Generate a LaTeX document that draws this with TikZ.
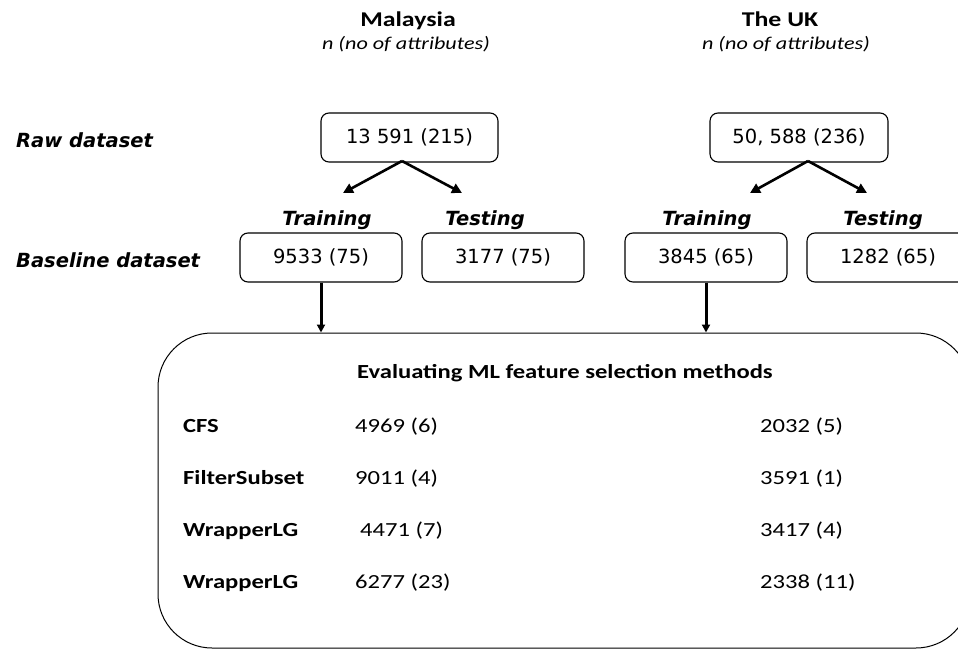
\documentclass[tikz,border=0pt]{standalone}
\usepackage{fontspec}
\usetikzlibrary{arrows.meta}
% Widened Calibri-metric face for headings and the results table
\newfontfamily\calfont[FakeStretch=1.23]{Carlito}
\newfontfamily\dvfont{DejaVu Sans}

\begin{document}
\begin{tikzpicture}[x=1pt,y=-1pt,
  countbox/.style={draw, line width=1.1pt, rounded corners=8pt,
    minimum height=49pt, inner sep=0pt,
    font=\dvfont\fontsize{19.5}{22}\selectfont},
  sidelabel/.style={anchor=base west, inner sep=0pt,
    font=\dvfont\bfseries\itshape\fontsize{19.5}{22}\selectfont},
  splitlabel/.style={anchor=base, inner sep=0pt,
    font=\dvfont\bfseries\itshape\fontsize{19.5}{22}\selectfont},
  country/.style={anchor=base, inner sep=0pt,
    font=\calfont\bfseries\fontsize{21}{24}\selectfont},
  subhead/.style={anchor=base, inner sep=0pt,
    font=\calfont\itshape\fontsize{18}{21}\selectfont},
  splitarrow/.style={line width=2.6pt, -{Triangle[length=10pt,width=10pt]}},
  downarrow/.style={line width=3pt, -{Triangle[length=8pt,width=8pt]}},
  evaltitle/.style={anchor=base, inner sep=0pt,
    font=\calfont\bfseries\fontsize{20}{24}\selectfont},
  method/.style={anchor=base west, inner sep=0pt,
    font=\calfont\bfseries\fontsize{20}{24}\selectfont},
  result/.style={anchor=base west, inner sep=0pt,
    font=\calfont\fontsize{20}{24}\selectfont}
]
\useasboundingbox (0,0) rectangle (958,650);

% Column headings
\node[country] (mal) at (408,27) {Malaysia};
\node[subhead] (malsub) at (406,50) {n (no of attributes)};
\node[country] (uk) at (780,27) {The UK};
\node[subhead] (uksub) at (786,50) {n (no of attributes)};

% Row labels
\node[sidelabel] (rawlbl) at (16,147) {Raw dataset};
\node[sidelabel] (baselbl) at (16,267) {Baseline dataset};

% Raw datasets
\node[countbox, minimum width=177pt] (rawM) at (409.5,137.5) {13 591 (215)};
\node[countbox, minimum width=178pt] (rawU) at (799,137.5) {50, 588 (236)};

% Training / testing split
\node[splitlabel] (trM) at (327,225) {Training};
\node[splitlabel] (teM) at (485,225) {Testing};
\node[splitlabel] (trU) at (707,225) {Training};
\node[splitlabel] (teU) at (883,225) {Testing};

\node[countbox, minimum width=162pt] (bM1) at (321,257.5) {9533 (75)};
\node[countbox, minimum width=162pt] (bM2) at (503,257.5) {3177 (75)};
\node[countbox, minimum width=162pt] (bU1) at (706,257.5) {3845 (65)};
\node[countbox, minimum width=162pt] (bU2) at (888,257.5) {1282 (65)};

\coordinate (mApex) at (402,161);
\coordinate (mLeft) at (343,193);
\coordinate (mRight) at (462,193);
\coordinate (uApex) at (808,161);
\coordinate (uLeft) at (750,193);
\coordinate (uRight) at (867,193);

\draw[splitarrow] (mApex) -- (mLeft);
\draw[splitarrow] (mApex) -- (mRight);
\draw[splitarrow] (uApex) -- (uLeft);
\draw[splitarrow] (uApex) -- (uRight);

% Feature selection evaluation panel
\node[draw, line width=1pt, rounded corners=54pt, minimum width=812pt,
  minimum height=315pt, inner sep=0pt] (eval) at (564,490.5) {};

\draw[downarrow] (bM1.south) -- (bM1.south |- eval.north);
\draw[downarrow] (bU1.south) -- (bU1.south |- eval.north);

\node[evaltitle] (evtitle) at (565,378) {Evaluating ML feature selection methods};

\node[method] (m1) at (183,432) {CFS};
\node[method] (m2) at (183,484) {FilterSubset};
\node[method] (m3) at (183,536) {WrapperLG};
\node[method] (m4) at (183,588) {WrapperLG};

\node[result] (r1m) at (355,432) {4969 (6)};
\node[result] (r2m) at (355,484) {9011 (4)};
\node[result] (r3m) at (360,536) {4471 (7)};
\node[result] (r4m) at (355,588) {6277 (23)};

\node[result] (r1u) at (760,432) {2032 (5)};
\node[result] (r2u) at (760,484) {3591 (1)};
\node[result] (r3u) at (760,536) {3417 (4)};
\node[result] (r4u) at (760,588) {2338 (11)};
\end{tikzpicture}
\end{document}
